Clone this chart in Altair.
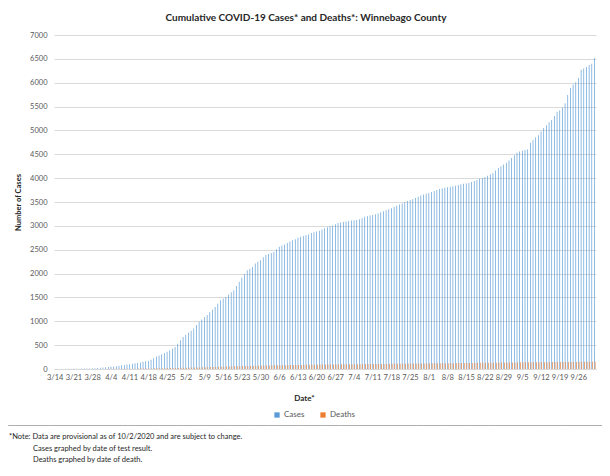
import altair as alt
import pandas as pd

dates = [f"{d.month}/{d.day}" for d in pd.date_range("2020-03-14", "2020-10-02")]

cases = [
    1, 1, 2, 2, 3, 4, 4,
    5, 6, 7, 9, 10, 12, 13,
    15, 18, 22, 26, 31, 37, 43,
    50, 55, 60, 68, 76, 84, 92,
    100, 108, 120, 128, 138, 150, 160,
    170, 195, 225, 260, 285, 310, 335,
    360, 395, 425, 460, 530, 600, 670,
    710, 760, 800, 850, 920, 990, 1040,
    1090, 1130, 1190, 1240, 1300, 1370, 1440,
    1480, 1510, 1560, 1610, 1650, 1740, 1830,
    1910, 1990, 2070, 2100, 2140, 2210, 2250,
    2280, 2340, 2390, 2410, 2430, 2450, 2510,
    2560, 2590, 2610, 2640, 2670, 2700, 2720,
    2750, 2770, 2790, 2805, 2820, 2850, 2865,
    2880, 2900, 2925, 2950, 2970, 2990, 3010,
    3035, 3060, 3070, 3080, 3090, 3100, 3110,
    3115, 3125, 3140, 3160, 3190, 3200, 3215,
    3230, 3245, 3260, 3285, 3305, 3325, 3350,
    3370, 3395, 3420, 3445, 3470, 3495, 3520,
    3540, 3560, 3585, 3610, 3635, 3655, 3675,
    3690, 3710, 3730, 3750, 3773, 3785, 3800,
    3810, 3820, 3830, 3840, 3857, 3870, 3880,
    3890, 3900, 3920, 3940, 3960, 3985, 4005,
    4025, 4050, 4080, 4110, 4160, 4210, 4250,
    4285, 4320, 4370, 4420, 4480, 4530, 4560,
    4575, 4590, 4600, 4740, 4800, 4850, 4900,
    4980, 5050, 5110, 5170, 5220, 5300, 5390,
    5420, 5480, 5570, 5740, 5890, 5960, 6010,
    6100, 6270, 6300, 6330, 6370, 6400, 6520,
]

deaths = [
    0, 0, 0, 0, 0, 0, 0,
    0, 0, 0, 0, 0, 0, 1,
    1, 1, 1, 2, 2, 2, 3,
    3, 3, 4, 4, 5, 5, 6,
    6, 7, 7, 8, 9, 10, 11,
    12, 13, 14, 15, 16, 17, 18,
    19, 20, 21, 22, 23, 24, 25,
    26, 28, 29, 31, 32, 34, 35,
    37, 38, 40, 42, 43, 45, 47,
    49, 50, 52, 54, 56, 57, 59,
    61, 62, 64, 65, 67, 68, 70,
    71, 72, 74, 75, 76, 77, 78,
    79, 80, 81, 82, 83, 84, 85,
    86, 86, 87, 88, 89, 90, 90,
    91, 92, 92, 93, 94, 94, 95,
    96, 96, 97, 98, 98, 99, 100,
    100, 101, 101, 102, 103, 103, 104,
    104, 105, 106, 106, 107, 107, 108,
    109, 109, 110, 111, 111, 112, 113,
    113, 114, 115, 115, 116, 117, 117,
    118, 119, 119, 120, 121, 121, 122,
    122, 123, 123, 124, 125, 125, 126,
    126, 127, 128, 128, 129, 129, 130,
    131, 131, 132, 133, 133, 134, 134,
    135, 136, 136, 137, 138, 138, 139,
    139, 140, 140, 141, 141, 142, 142,
    143, 143, 144, 144, 145, 145, 146,
    146, 147, 147, 148, 148, 149, 149,
    150, 150, 151, 151, 152, 152, 153,
]

series = ["Cases", "Deaths"]
colors = ["#5B9BD5", "#ED7D31"]
y_ticks = list(range(0, 7001, 500))
week_labels = dates[::7]

title_text = "Cumulative COVID-19 Cases* and Deaths*: Winnebago County"
note_lines = [
    "*Note: Data are provisional as of 10/2/2020 and are subject to change.",
    "Cases graphed by date of test result.",
    "Deaths graphed by date of death.",
]
separator_text = "\u2500" * 100

n = len(dates)
df = pd.DataFrame({
    "date": dates + dates,
    "series": [series[0]] * n + [series[1]] * n,
    "value": cases + deaths,
})

FONT = "Lato"

bars = alt.Chart(df).mark_bar().encode(
    x=alt.X(
        "date:O", sort=None,
        scale=alt.Scale(paddingInner=0.5, paddingOuter=0.2),
        axis=alt.Axis(
            values=week_labels, labelAngle=0, ticks=False, domain=True,
            domainColor="#d9d9d9", labelFont=FONT, labelFontSize=7.5,
            labelColor="#595959", labelPadding=4, labelOverlap=False,
            title="Date*", titleFont=FONT, titleFontSize=8, titleFontWeight="bold",
            titleColor="#262626", titleX=250, titleY=29, titleBaseline="middle",
            titleAlign="center", titleAnchor="middle",
        ),
    ),
    xOffset=alt.XOffset("series:N", sort=series),
    y=alt.Y(
        "value:Q", scale=alt.Scale(domain=[0, 7000], nice=False),
        axis=alt.Axis(
            values=y_ticks, format="d", ticks=False, domain=False, gridColor="#d9d9d9",
            labelFont=FONT, labelFontSize=7.5, labelColor="#595959", labelPadding=7,
            title="Number of Cases", titleFont=FONT, titleFontSize=7.5,
            titleFontWeight="bold", titleColor="#262626", titleX=-36, titleY=167,
            titleAngle=270, titleAlign="center", titleBaseline="middle",
        ),
    ),
    color=alt.Color(
        "series:N",
        scale=alt.Scale(domain=series, range=colors),
        legend=alt.Legend(
            orient="none", legendX=219, legendY=376, direction="horizontal",
            title=None, symbolType="square", symbolSize=28, symbolStrokeWidth=0,
            labelFont=FONT, labelFontSize=8, labelColor="#595959",
            columnPadding=14, labelOffset=3,
        ),
    ),
)

title = alt.Chart(pd.DataFrame({"t": [title_text]})).mark_text(
    font=FONT, fontSize=10, fontWeight="bold", color="#262626",
    align="center", baseline="middle",
).encode(text="t:N", x=alt.value(252), y=alt.value(-17))

note1 = alt.Chart(pd.DataFrame({"t": [note_lines[0]]})).mark_text(
    font=FONT, fontSize=7.5, color="#262626", align="left", baseline="middle",
).encode(text="t:N", x=alt.value(-45), y=alt.value(402))

note2 = alt.Chart(pd.DataFrame({"t": [note_lines[1]]})).mark_text(
    font=FONT, fontSize=7.5, color="#262626", align="left", baseline="middle",
).encode(text="t:N", x=alt.value(-21), y=alt.value(414))

note3 = alt.Chart(pd.DataFrame({"t": [note_lines[2]]})).mark_text(
    font=FONT, fontSize=7.5, color="#262626", align="left", baseline="middle",
).encode(text="t:N", x=alt.value(-21), y=alt.value(425))

separator = alt.Chart(pd.DataFrame({"t": [separator_text]})).mark_text(
    font="DejaVu Sans", fontSize=10, color="#a6a6a6", align="left", baseline="middle",
).encode(text="t:N", x=alt.value(-46), y=alt.value(391))

chart = alt.layer(bars, separator, title, note1, note2, note3).properties(
    width=542, height=334,
    padding={"left": 46, "top": 27, "right": 6, "bottom": 99},
    autosize=alt.AutoSizeParams(type="none"),
).configure_view(stroke=None)

chart.save("out.html", embed_options={"renderer": "svg", "actions": False})
